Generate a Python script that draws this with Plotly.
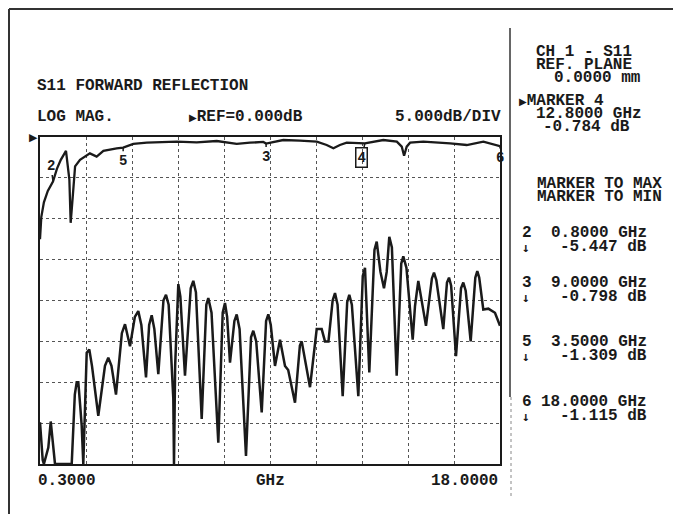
import plotly.graph_objects as go

# ---------------- data ----------------
upper_freq = [0.30, 0.35, 0.45, 0.60, 0.80, 0.95, 1.10, 1.30, 1.43, 1.48, 1.56, 1.65, 1.84,
              2.22, 2.48, 2.74, 3.25, 3.50, 3.89, 4.41, 5.56, 6.33, 7.10, 7.87, 8.38, 8.89,
              9.00, 9.66, 10.30, 10.95, 11.33, 11.59, 11.84, 12.10, 12.80, 13.51, 14.03,
              14.22, 14.31, 14.41, 14.54, 15.05, 16.08, 16.72, 17.36, 18.00]
upper_db = [-12.5, -9.8, -8.0, -6.6, -5.447, -3.9, -2.8, -1.7, -5.2, -10.5, -7.3, -3.6, -2.8,
            -2.0, -2.4, -1.7, -1.4, -1.309, -0.85, -0.70, -0.57, -0.65, -0.49, -0.85, -0.70, -0.60,
            -0.798, -0.37, -0.45, -0.57, -0.98, -1.38, -0.98, -0.70, -0.784, -0.37, -0.57,
            -1.18, -2.3, -1.18, -0.70, -0.57, -0.77, -0.98, -0.57, -1.115]

lower_freq = [0.300, 0.404, 0.45, 0.62, 0.712, 0.80, 0.877, 1.52, 1.64, 1.712, 1.774, 1.85,
              1.904, 1.966, 2.097, 2.197, 2.30, 2.543, 2.80, 2.928, 3.05, 3.224, 3.45, 3.571,
              3.763, 3.95, 4.082, 4.20, 4.379, 4.50, 4.598, 4.70, 4.852, 5.05, 5.148, 5.25,
              5.429, 5.456, 5.50, 5.622, 5.70, 5.879, 6.10, 6.199, 6.30, 6.522, 6.70, 6.776,
              6.90, 7.161, 7.33, 7.418, 7.50, 7.611, 7.78, 7.869, 7.98, 8.226, 8.42, 8.507,
              8.62, 8.831, 9.00, 9.085, 9.18, 9.342, 9.535, 9.727, 9.85, 10.112, 10.30, 10.370,
              10.689, 10.947, 11.139, 11.266, 11.40, 11.56, 11.651, 11.75, 11.947, 12.12, 12.201,
              12.30, 12.548, 12.72, 12.805, 12.971, 13.17, 13.256, 13.40, 13.536, 13.64, 13.740,
              13.84, 14.025, 14.20, 14.279, 14.40, 14.641, 14.729, 14.856, 15.152, 15.38, 15.460,
              15.55, 15.818, 15.96, 16.038, 16.12, 16.307, 16.50, 16.588, 16.68, 16.872, 17.05,
              17.126, 17.20, 17.357, 17.55, 17.807, 18.0]
lower_db = [-34.9, -39.5, -40.0, -38.0, -34.8, -38.0, -40.0, -40.0, -31.5, -30.0, -30.0, -33.0,
            -35.3, -40.0, -26.4, -26.0, -28.0, -34.1, -28.0, -27.0, -28.0, -31.5, -24.0, -22.9,
            -25.6, -22.0, -21.3, -23.0, -29.4, -23.0, -21.8, -23.5, -29.0, -20.0, -19.3, -20.5,
            -32.0, -40.0, -28.0, -18.0, -19.5, -29.2, -18.5, -17.6, -19.0, -34.5, -20.5, -19.7,
            -21.5, -37.4, -21.5, -20.3, -22.0, -27.6, -22.5, -21.7, -23.5, -39.0, -24.5, -23.7,
            -25.0, -33.7, -22.5, -21.7, -23.0, -28.0, -24.8, -28.0, -28.5, -32.5, -25.5, -25.0,
            -30.6, -23.5, -23.5, -25.0, -25.0, -20.0, -19.1, -20.5, -31.7, -20.2, -19.3,
            -20.5, -31.7, -17.0, -16.0, -28.8, -13.8, -12.8, -16.5, -18.5, -16.5, -12.2,
            -13.5, -29.2, -15.5, -14.6, -16.0, -24.8, -20.7, -17.6, -23.1, -17.3, -16.6,
            -17.5, -23.5, -17.8, -17.2, -18.2, -26.8, -18.5, -17.8, -18.8, -25.0, -17.2,
            -16.4, -17.2, -21.1, -21.0, -21.5, -23.1]

marker_ids = ["2", "3", "4", "5", "6"]
marker_freq = [0.8, 9.0, 12.8, 3.5, 18.0]
marker_db = [-5.447, -0.798, -0.784, -1.309, -1.115]

# ---------------- layout geometry ----------------
# the page body adds an 8 px margin, so the figure is 8 px smaller than the window
OFF = 8
W, H = 681 - OFF, 514 - OFF
PX0, PX1, PY0, PY1 = 40, 500, 137, 464     # plot area in window pixels
PW, PH = PX1 - PX0, PY1 - PY0
L, T = PX0 - OFF, PY0 - OFF
R, B = W - L - PW, H - T - PH
INK = "#1a1a1a"
FONT = "Liberation Mono"
FS = 16
TRI = "<span style='font-family:DejaVu Sans;font-size:10px'>▶</span>"


def px(x):
    return (x - PX0) / PW


def py(y):
    return (PY1 - y) / PH


fig = go.Figure()
fig.add_trace(go.Scatter(x=lower_freq, y=lower_db, mode="lines",
                         line=dict(color=INK, width=2.5), hoverinfo="skip"))
fig.add_trace(go.Scatter(x=upper_freq, y=upper_db, mode="lines",
                         line=dict(color=INK, width=2.3), hoverinfo="skip"))

ann = []


def text(x, y, s, anchor="left", size=FS, family=FONT):
    ann.append(dict(xref="paper", yref="paper", x=px(x), y=py(y), text=s,
                    showarrow=False, xanchor=anchor, yanchor="middle", borderpad=0,
                    font=dict(family=family, size=size, color=INK, weight="bold")))


text(36, 86, "S11 FORWARD REFLECTION")
text(36, 117, "LOG MAG.")
text(188, 117, TRI + "REF=0.000dB")
text(502, 117, "5.000dB/DIV", "right")
text(37, 481, "0.3000")
text(270, 481, "GHz", "center")
text(499, 481, "18.0000", "right")

text(535, 52, "CH 1 - S11")
text(535, 65, "REF. PLANE")
text(553, 78, "0.0000 mm")
text(518, 101, TRI + "MARKER 4")
text(535, 114, "12.8000 GHz")
text(542, 127, "-0.784 dB")
text(536, 184, "MARKER TO MAX")
text(536, 197, "MARKER TO MIN")

rows_y = {"2": 233, "3": 283, "5": 342, "6": 402}
for mid, f, d in zip(marker_ids, marker_freq, marker_db):
    if mid in rows_y:
        yy = rows_y[mid]
        text(521, yy, mid)
        text(648, yy, f"{f:.4f} GHz", "right")
        text(521, yy + 14, "↓", size=13, family="DejaVu Sans Mono")
        text(648, yy + 14, f"{d:.3f} dB", "right")

# marker labels on the trace
offs = {"2": (-2, -16), "3": (0, 13), "4": (-3, 14), "5": (0, 13), "6": (0, 12)}
for mid, f, d in zip(marker_ids, marker_freq, marker_db):
    ax, ay = offs[mid]
    a = dict(xref="x", yref="y", x=f, y=d, text=mid, showarrow=True,
             arrowhead=0, arrowwidth=1.5, arrowcolor=INK, ax=ax, ay=ay,
             standoff=0, font=dict(family=FONT, size=14, color=INK, weight="bold"))
    if mid == "4":
        a.update(bordercolor=INK, borderwidth=1.5, borderpad=1)
    ann.append(a)

# reference arrow at 0 dB
ann.append(dict(xref="paper", yref="y", x=0, y=0, text="▶", showarrow=False,
                xanchor="right", yanchor="middle",
                font=dict(family="DejaVu Sans", size=11, color=INK)))

shapes = [
    dict(type="line", xref="paper", yref="paper", x0=px(9), x1=px(690), y0=py(9), y1=py(9),
         line=dict(color="#333", width=2)),
    dict(type="line", xref="paper", yref="paper", x0=px(9), x1=px(9), y0=py(9), y1=py(520),
         line=dict(color="#333", width=2)),
    dict(type="line", xref="paper", yref="paper", x0=px(510), x1=px(510), y0=py(28), y1=py(397),
         line=dict(color="#333", width=1.5)),
    dict(type="line", xref="paper", yref="paper", x0=px(511), x1=px(511), y0=py(397), y1=py(497),
         line=dict(color="#888", width=1, dash="dot")),
]

fig.update_layout(
    width=W, height=H, margin=dict(l=L, r=R, t=T, b=B),
    paper_bgcolor="white", plot_bgcolor="white", showlegend=False,
    annotations=ann, shapes=shapes,
    xaxis=dict(range=[0.3, 18.0], tick0=0.3, dtick=1.77, showgrid=True,
               gridcolor="#555", gridwidth=1, griddash="dot", zeroline=False,
               showticklabels=False, ticks="", showline=True, mirror=True,
               linecolor=INK, linewidth=2),
    yaxis=dict(range=[-40, 0], dtick=5, showgrid=True, gridcolor="#555", gridwidth=1,
               griddash="dot", zeroline=False, showticklabels=False, ticks="",
               showline=True, mirror=True, linecolor=INK, linewidth=2),
)

fig.write_html("out.html")
